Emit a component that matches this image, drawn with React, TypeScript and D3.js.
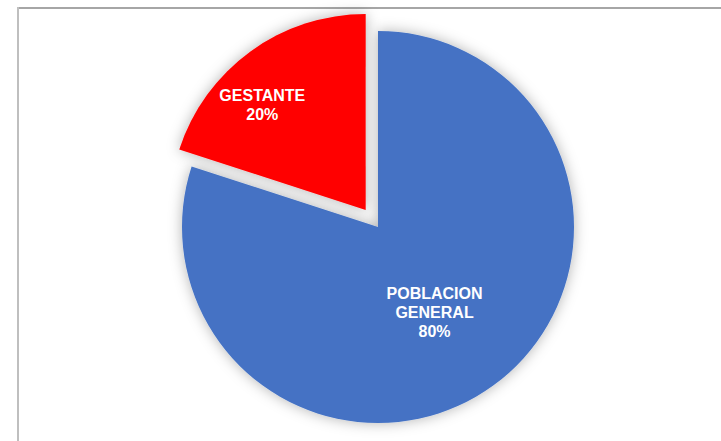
import { useMemo } from "react";
import * as d3 from "d3";

// pie: poblacion general vs gestante
const categories = ["POBLACION GENERAL", "GESTANTE"];
const labelLines = [["POBLACION", "GENERAL"], ["GESTANTE"]];
const values = [80, 20];
const colors = ["#4472C4", "#FF0000"];
const explode = [0, 21];

const width = 721;
const height = 441;
const cx = 378;
const cy = 227;
const radius = 196;

const App = () => {
  const arcs = useMemo(
    () =>
      d3
        .pie<number>()
        .sort(null)
        .startAngle(0)
        .endAngle(2 * Math.PI)(values),
    []
  );
  const arc = d3.arc<d3.PieArcDatum<number>>().innerRadius(0).outerRadius(radius);
  // label positions (excel best fit, roughly)
  const labelArcs = [
    d3.arc<d3.PieArcDatum<number>>().innerRadius(103).outerRadius(103),
    d3.arc<d3.PieArcDatum<number>>().innerRadius(135).outerRadius(135),
  ];
  const labelShift = [
    [-4, 4],
    [-24, 6],
  ];

  return (
    <svg
      width={width}
      height={height}
      style={{ position: "absolute", left: 0, top: 0, fontFamily: "'Liberation Sans', Arial, sans-serif" }}
    >
      <defs>
        <filter id="sh" x="-25%" y="-25%" width="150%" height="150%">
          <feDropShadow dx="0" dy="0" stdDeviation="7" floodColor="#000" floodOpacity="0.3" />
        </filter>
      </defs>
      <rect x={0} y={0} width={width} height={height} fill="#fff" />
      <line x1={18} x2={width} y1={8} y2={8} stroke="#a6a6a6" strokeWidth={2} />
      <line x1={18} x2={18} y1={7} y2={height} stroke="#bfbfbf" strokeWidth={2} />
      {arcs.map((a, i) => {
        const mid = (a.startAngle + a.endAngle) / 2;
        const ox = Math.sin(mid) * explode[i];
        const oy = -Math.cos(mid) * explode[i];
        const [lx, ly] = labelArcs[i].centroid(a);
        const lines = [...labelLines[i], `${values[i]}%`];
        const tx = lx + labelShift[i][0];
        return (
          <g key={categories[i]} transform={`translate(${cx + ox},${cy + oy})`}>
            <path d={arc(a) ?? ""} fill={colors[i]} filter="url(#sh)" />
            <text
              x={tx}
              y={ly + labelShift[i][1] - ((lines.length - 1) * 19) / 2}
              fill="#fff"
              fontSize={16}
              fontWeight="bold"
              textAnchor="middle"
              dominantBaseline="middle"
            >
              {lines.map((t, j) => (
                <tspan key={j} x={tx} dy={j === 0 ? 0 : 19}>
                  {t}
                </tspan>
              ))}
            </text>
          </g>
        );
      })}
    </svg>
  );
};

export default App;
